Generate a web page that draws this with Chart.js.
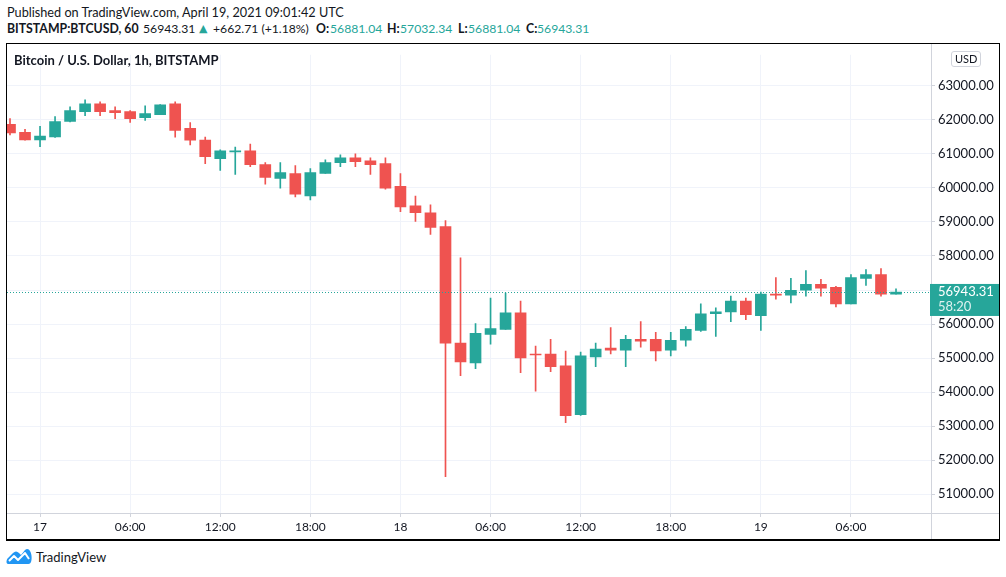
<!DOCTYPE html>
<html lang="en">
<head>
<meta charset="UTF-8">
<script src="https://cdn.jsdelivr.net/npm/chart.js"></script>
<title>BTCUSD 1h</title>
<style>
  body { margin: 0; width: 1006px; height: 577px; background: #fff; position: relative; overflow: hidden;
         font-family: Lato, "Open Sans", sans-serif; color: #131722; }
  .hdr { position: absolute; left: 7px; white-space: nowrap; font-size: 12.7px; }
  #line1 { top: 4px; }
  #line2 { top: 21px; left: 0; height: 18px; }
  #line2 span { position: absolute; top: 0; font-size: 12.2px; }
  #line2 .b { font-weight: bold; font-size: 12.3px; }
  #line2 .tri { font-family: "DejaVu Sans", sans-serif; font-size: 11px; top: 1px; }
  .g { color: #26a69a; }
  #frame { position: absolute; left: 6px; top: 43px; width: 994px; height: 498px; box-sizing: border-box;
           border: 1px solid #000; border-bottom-width: 2px; }
  #frame canvas { position: absolute; left: 0; top: 0; }
  #title { position: absolute; left: 14px; top: 52px; font-size: 13px; font-weight: bold; white-space: nowrap; }
  #usd { position: absolute; left: 951px; top: 51px; font-size: 11px; line-height: 14px; padding: 0 3px;
         border: 1px solid #d1d4dc; border-radius: 3px; background: #fff; }
  #logo { position: absolute; left: 6px; top: 548px; display: flex; align-items: center; font-size: 13px; }
  #logo svg { margin-right: 4px; }
</style>
</head>
<body>
<div class="hdr" id="line1">Published on TradingView.com, April 19, 2021 09:01:42 UTC</div>
<div class="hdr" id="line2">
  <span class="b" style="left:7px">BITSTAMP:BTCUSD, 60</span>
  <span style="left:143px">56943.31</span>
  <span class="g tri" style="left:199px">&#9650;</span>
  <span style="left:213px">+662.71 (+1.18%)</span>
  <span class="b" style="left:316px">O:</span><span class="g" style="left:330px">56881.04</span>
  <span class="b" style="left:387px">H:</span><span class="g" style="left:400px">57032.34</span>
  <span class="b" style="left:458px">L:</span><span class="g" style="left:468px">56881.04</span>
  <span class="b" style="left:526px">C:</span><span class="g" style="left:537px">56943.31</span>
</div>

<div id="frame">
  <canvas id="chart" width="992" height="495"></canvas>
</div>
<div id="title">Bitcoin / U.S. Dollar, 1h, BITSTAMP</div>
<div id="usd">USD</div>
<div id="logo">
  <svg width="26" height="17" viewBox="0 0 26 17">
    <path d="M2 16 C0 16 0 12 2 10 L7 5 C9 3 11 3 13 5 L15 7 L19 2 C21 0 23 1 24 3 C26 6 26 12 25 14 C24 16 23 16 21 16 Z" fill="#2196f3"/>
    <polyline points="3,13 8,8 12,12 19,5 23,11" fill="none" stroke="#fff" stroke-width="2" stroke-linejoin="round"/>
  </svg>
  <span>TradingView</span>
</div>

<script>
// hours since Apr 17 00:00 UTC, one candle per hour
const hours = [-2, -1, 0, 1, 2, 3, 4, 5, 6, 7, 8, 9, 10, 11, 12, 13, 14, 15, 16, 17,
               18, 19, 20, 21, 22, 23, 24, 25, 26, 27, 28, 29, 30, 31, 32, 33, 34, 35, 36, 37,
               38, 39, 40, 41, 42, 43, 44, 45, 46, 47, 48, 49, 50, 51, 52, 53, 54, 55, 56, 57];

const opens = [61865, 61634, 61412, 61499, 61951, 62239, 62470, 62268, 62239, 62066,
               62153, 62470, 61749, 61403, 60856, 61058, 61086, 60683, 60280, 60424,
               59761, 60424, 60741, 60885, 60798, 60712, 60049, 59473, 59271, 58867,
               55438, 54862, 55698, 55842, 56332, 55121, 55121, 54775, 53335, 55035,
               55294, 55236, 55553, 55553, 55236, 55524, 55813, 56303, 56360, 56677,
               56245, 56879, 56850, 56994, 57167, 57081, 56591, 57340, 57455, 56881.04];

const highs = [62037, 61720, 61807, 62095, 62383, 62585, 62527, 62383, 62268, 62412,
               62450, 62527, 61922, 61490, 61115, 61202, 61288, 60741, 60741, 60654,
               60568, 60827, 60971, 61000, 60885, 60885, 60424, 59761, 59501, 59040,
               57945, 56014, 56764, 56908, 56677, 55352, 55553, 55208, 55179, 55438,
               55899, 55669, 56072, 55755, 55755, 55928, 56591, 56476, 56821, 56764,
               56937, 57369, 57340, 57571, 57311, 57110, 57455, 57599, 57628, 57032.34];

const lows = [61556, 61400, 61210, 61480, 61940, 62124, 62124, 62037, 61922, 61980,
              62150, 61490, 61259, 60712, 60510, 60395, 60625, 60107, 59991, 59732,
              59646, 60424, 60625, 60625, 60395, 59963, 59300, 59012, 58637, 51519,
              54487, 54689, 55409, 55842, 54574, 54026, 54602, 53104, 53320, 54747,
              55121, 54747, 55323, 54919, 55064, 55352, 55784, 55640, 56072, 56130,
              55813, 56735, 56620, 56821, 56821, 56504, 56591, 57138, 56821, 56881.04];

const closes = [61614, 61412, 61519, 61951, 62268, 62470, 62239, 62210, 62037, 62182,
                62441, 61692, 61403, 60914, 61086, 61086, 60683, 60308, 60452, 59819,
                60452, 60741, 60885, 60769, 60683, 59991, 59444, 59271, 58839, 55438,
                54891, 55726, 55871, 56332, 55006, 55092, 54747, 53306, 55064, 55265,
                55236, 55553, 55496, 55208, 55524, 55842, 56303, 56360, 56677, 56274,
                56879, 56850, 56994, 57167, 57052, 56591, 57369, 57455, 56881, 56943.31];

const tickHours = [0, 6, 12, 18, 24, 30, 36, 42, 48, 54];
const tickLabels = ['17', '06:00', '12:00', '18:00', '18', '06:00', '12:00', '18:00', '19', '06:00'];
const priceTicks = [51000, 52000, 53000, 54000, 55000, 56000, 57000, 58000, 59000, 60000, 61000, 62000, 63000];
const countdown = '58:20';

const UP = '#26a69a';
const DOWN = '#ef5350';
const candleColor = (i) => closes[i] >= opens[i] ? UP : DOWN;

const wickData = hours.map((h, i) => ({ x: h, y: [lows[i], highs[i]] }));
const bodyData = hours.map((h, i) => ({ x: h, y: [opens[i], closes[i]] }));

const lastClose = closes[closes.length - 1];

const lastPricePlugin = {
    id: 'lastPrice',
    afterDatasetsDraw(chart) {
        const ctx = chart.ctx;
        const area = chart.chartArea;
        const y = Math.round(chart.scales.y.getPixelForValue(lastClose)) + 0.5;
        ctx.save();
        ctx.strokeStyle = UP;
        ctx.lineWidth = 1;
        ctx.setLineDash([1, 2]);
        ctx.beginPath();
        ctx.moveTo(area.left, y);
        ctx.lineTo(area.right, y);
        ctx.stroke();
        ctx.restore();
    },
    afterDraw(chart) {
        const ctx = chart.ctx;
        const area = chart.chartArea;
        const y = chart.scales.y.getPixelForValue(lastClose);
        ctx.save();
        // separators between plot and axes
        ctx.strokeStyle = '#d1d4dc';
        ctx.lineWidth = 1;
        ctx.beginPath();
        ctx.moveTo(Math.round(area.right) + 0.5, 0);
        ctx.lineTo(Math.round(area.right) + 0.5, chart.height);
        ctx.moveTo(0, Math.round(area.bottom) + 0.5);
        ctx.lineTo(chart.width, Math.round(area.bottom) + 0.5);
        ctx.stroke();
        // last price badge
        ctx.fillStyle = UP;
        ctx.fillRect(area.right - 1, y - 8, 70, 32);
        ctx.fillStyle = '#fff';
        ctx.font = '13px Lato, "Open Sans", sans-serif';
        ctx.textBaseline = 'middle';
        ctx.fillText(lastClose.toFixed(2), area.right + 7, y);
        ctx.fillStyle = 'rgba(255,255,255,0.85)';
        ctx.fillText(countdown, area.right + 7, y + 15);
        ctx.restore();
    }
};

new Chart(document.getElementById('chart'), {
    type: 'bar',
    data: {
        datasets: [
            {
                data: wickData,
                backgroundColor: hours.map((h, i) => candleColor(i)),
                barThickness: 1,
                grouped: false,
                order: 2
            },
            {
                data: bodyData,
                backgroundColor: hours.map((h, i) => candleColor(i)),
                barThickness: 11,
                minBarLength: 1,
                grouped: false,
                order: 1
            }
        ]
    },
    options: {
        responsive: false,
        animation: false,
        layout: { padding: { top: 1 } },
        plugins: { legend: { display: false }, tooltip: { enabled: false } },
        scales: {
            x: {
                type: 'linear',
                min: -2.2,
                max: 59.33,
                offset: false,
                afterBuildTicks: (scale) => { scale.ticks = tickHours.map(v => ({ value: v })); },
                afterFit: (scale) => { scale.height = 26; },
                grid: { offset: false, color: '#f0f3fa', tickColor: '#d1d4dc', tickLength: 4 },
                border: { display: false },
                ticks: {
                    autoSkip: false,
                    maxRotation: 0,
                    padding: 3,
                    color: '#131722',
                    font: { family: 'Lato, "Open Sans", sans-serif', size: 12 },
                    callback: (v) => tickLabels[tickHours.indexOf(v)]
                }
            },
            y: {
                position: 'right',
                min: 50450,
                max: 63910,
                afterBuildTicks: (scale) => { scale.ticks = priceTicks.map(v => ({ value: v })); },
                afterFit: (scale) => { scale.width = 68; },
                grid: { color: '#f0f3fa', tickColor: '#d1d4dc', tickLength: 4 },
                border: { display: false },
                ticks: {
                    padding: 3,
                    color: '#131722',
                    font: { family: 'Lato, "Open Sans", sans-serif', size: 13 },
                    callback: (v) => v.toFixed(2)
                }
            }
        }
    },
    plugins: [lastPricePlugin]
});
</script>
</body>
</html>
